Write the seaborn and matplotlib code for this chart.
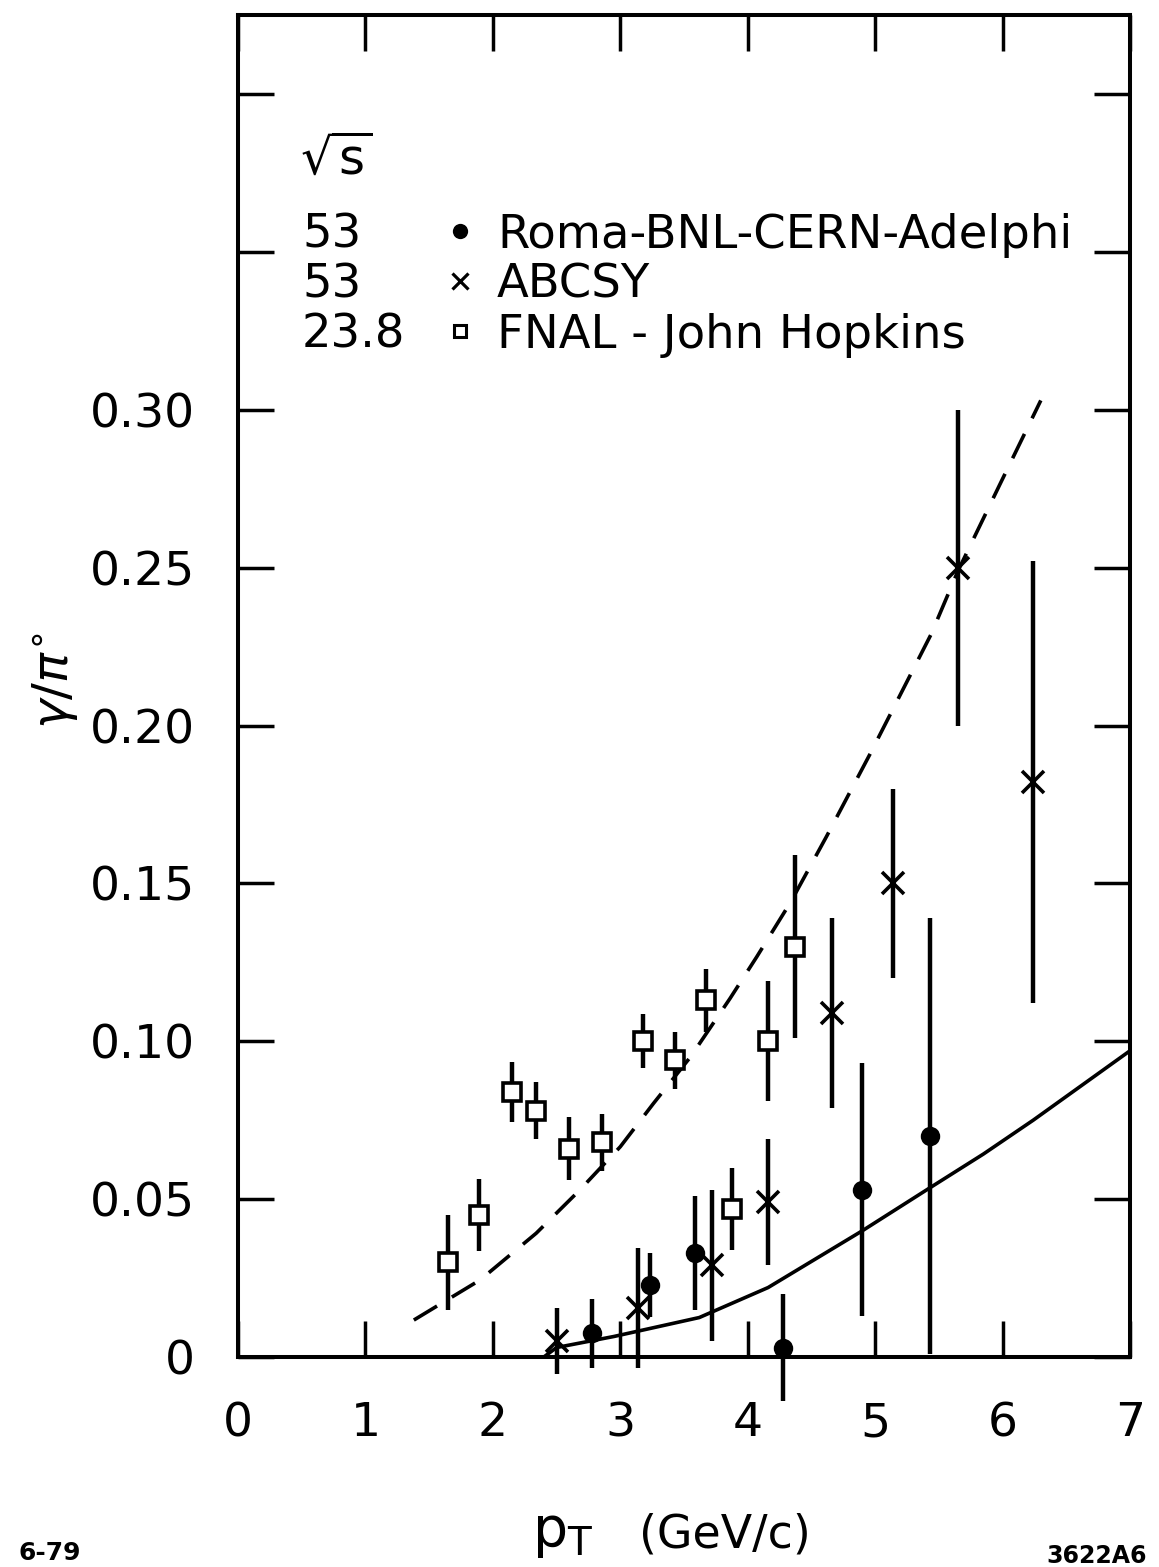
import matplotlib
matplotlib.use("Agg")
import matplotlib.pyplot as plt
import pandas as pd
import seaborn as sns

# Roma-BNL-CERN-Adelphi, sqrt(s) = 53 GeV
roma_pt = [2.78, 3.23, 3.59, 4.28, 4.90, 5.43]
roma_val = [0.0075, 0.0228, 0.033, 0.003, 0.053, 0.070]
roma_err = [0.011, 0.010, 0.018, 0.017, 0.040, 0.069]

# ABCSY, sqrt(s) = 53 GeV
abcsy_pt = [2.50, 3.14, 3.72, 4.16, 4.66, 5.14, 5.65, 6.24]
abcsy_val = [0.005, 0.0155, 0.029, 0.049, 0.109, 0.150, 0.250, 0.182]
abcsy_err = [0.0105, 0.019, 0.024, 0.020, 0.030, 0.030, 0.050, 0.070]

# FNAL - John Hopkins, sqrt(s) = 23.8 GeV
fnal_pt = [1.65, 1.89, 2.15, 2.34, 2.60, 2.855, 3.18, 3.43, 3.67, 3.88, 4.16, 4.37]
fnal_val = [0.030, 0.045, 0.084, 0.078, 0.066, 0.068, 0.100, 0.094, 0.113, 0.047, 0.100, 0.130]
fnal_err = [0.015, 0.0115, 0.0095, 0.009, 0.010, 0.009, 0.0085, 0.009, 0.010, 0.013, 0.019, 0.029]

# prediction curves
solid_pt = [2.40, 2.50, 2.95, 3.62, 4.16, 4.53, 4.90, 5.43, 5.85, 6.24, 7.00]
solid_val = [0.0, 0.003, 0.0065, 0.0125, 0.022, 0.031, 0.040, 0.0536, 0.0643, 0.075, 0.097]
dashed_pt = [1.38, 1.90, 2.34, 2.68, 3.00, 3.26, 3.55, 3.86, 4.07, 4.34, 4.62, 4.96,
             5.44, 5.65, 5.98, 6.30]
dashed_val = [0.0117, 0.0244, 0.0392, 0.0528, 0.0666, 0.0803, 0.095, 0.1135, 0.1267,
              0.1443, 0.165, 0.191, 0.229, 0.249, 0.2765, 0.303]

x_ticks = [0, 1, 2, 3, 4, 5, 6, 7]
y_ticks = [0, 0.05, 0.10, 0.15, 0.20, 0.25, 0.30, 0.35, 0.40]
y_tick_labels = ["0", "0.05", "0.10", "0.15", "0.20", "0.25", "0.30", "", ""]

legend_energy = ["53", "53", "23.8"]
legend_names = ["Roma-BNL-CERN-Adelphi", "ABCSY", "FNAL - John Hopkins"]

sns.set_theme(style="white")
plt.rcParams["font.family"] = ["DejaVu Sans"]
plt.rcParams["mathtext.fontset"] = "dejavusans"
plt.rcParams["text.color"] = "black"

W, H = 1159, 1567
fig = plt.figure(figsize=(W / 100, H / 100), dpi=100)
L, R, T, B = 238, 1130, 15, 1357
ax = fig.add_axes([L / W, (H - B) / H, (R - L) / W, (B - T) / H])

solid_df = pd.DataFrame({"pt": solid_pt, "ratio": solid_val})
dashed_df = pd.DataFrame({"pt": dashed_pt, "ratio": dashed_val})
sns.lineplot(data=solid_df, x="pt", y="ratio", ax=ax, color="black", lw=2.6,
             sort=False, estimator=None)
sns.lineplot(data=dashed_df, x="pt", y="ratio", ax=ax, color="black", lw=2.6,
             sort=False, estimator=None)
ax.lines[-1].set_dashes((7.5, 4.8))

common = dict(ecolor="black", elinewidth=3.2, capsize=0, ls="none", color="black")
series = [
    (fnal_pt, fnal_val, fnal_err, dict(marker="s", ms=12.5, mfc="white", mec="black", mew=2.6)),
    (roma_pt, roma_val, roma_err, dict(marker="o", ms=14, mfc="black", mec="black", mew=0)),
    (abcsy_pt, abcsy_val, abcsy_err, dict(marker="x", ms=16, mec="black", mew=2.6)),
]
for xs, ys, es, style in series:
    cont = ax.errorbar(xs, ys, yerr=es, zorder=4, **common, **style)
    for art in cont.get_children():
        art.set_clip_on(False)

ax.set_xlim(0, 7)
ax.set_ylim(0, (B - T) / 3157)
ax.set_xticks(x_ticks)
ax.set_xticklabels([str(v) for v in x_ticks])
ax.set_yticks(y_ticks)
ax.set_yticklabels(y_tick_labels)
ax.tick_params(axis="both", direction="in", length=26, width=2.5, color="black",
               bottom=True, left=True, top=True, right=True,
               labelsize=34, labelcolor="black")
ax.tick_params(axis="x", pad=32)
ax.tick_params(axis="y", pad=31)
for sp in ax.spines.values():
    sp.set_visible(True)
    sp.set_color("black")
    sp.set_linewidth(2.9)
ax.set_xlabel("")
ax.set_ylabel("")
ax.grid(False)


def ax_xy(px, py):
    return (px - L) / (R - L), (B - py) / (B - T)


# key block in the upper left
fs = 33.5
ax.text(*ax_xy(300, 160), r"$\sqrt{\mathrm{s}}$", fontsize=36, ha="left", va="center",
        transform=ax.transAxes)
rows_y = [231, 281, 331]
key_marks = [
    dict(marker="o", ms=11, mfc="black", mec="black", mew=0),
    dict(marker="x", ms=11, mec="black", mew=2.3, color="black"),
    dict(marker="s", ms=9, mfc="white", mec="black", mew=2.2),
]
for yv, en, name, mk in zip(rows_y, legend_energy, legend_names, key_marks):
    ax.text(*ax_xy(302, yv + 17), en, fontsize=fs, ha="left", va="baseline",
            transform=ax.transAxes)
    ax.text(*ax_xy(497, yv + 17), name, fontsize=fs, ha="left", va="baseline",
            transform=ax.transAxes)
    ax.plot(*ax_xy(460, yv), transform=ax.transAxes, ls="none", clip_on=False, **mk)

# axis titles
fig.text(55 / W, (H - 680) / H, r"$\gamma/\pi^{\circ}$", rotation=90, fontsize=36,
         ha="center", va="center")
fig.text(532 / W, (H - 1546) / H, r"$\mathrm{p}_{\mathrm{T}}$", fontsize=40,
         ha="left", va="baseline")
fig.text(725 / W, (H - 1548) / H, "(GeV/c)", fontsize=33, ha="center", va="baseline")

# corner annotations
fig.text(18 / W, 2 / H, "6-79", fontsize=18, fontweight="bold",
         ha="left", va="bottom")
fig.text(1147 / W, (H - 1563) / H, "3622A6", fontsize=17, fontweight="bold",
         ha="right", va="baseline")

fig.savefig("out.png", dpi=100, facecolor="white")
